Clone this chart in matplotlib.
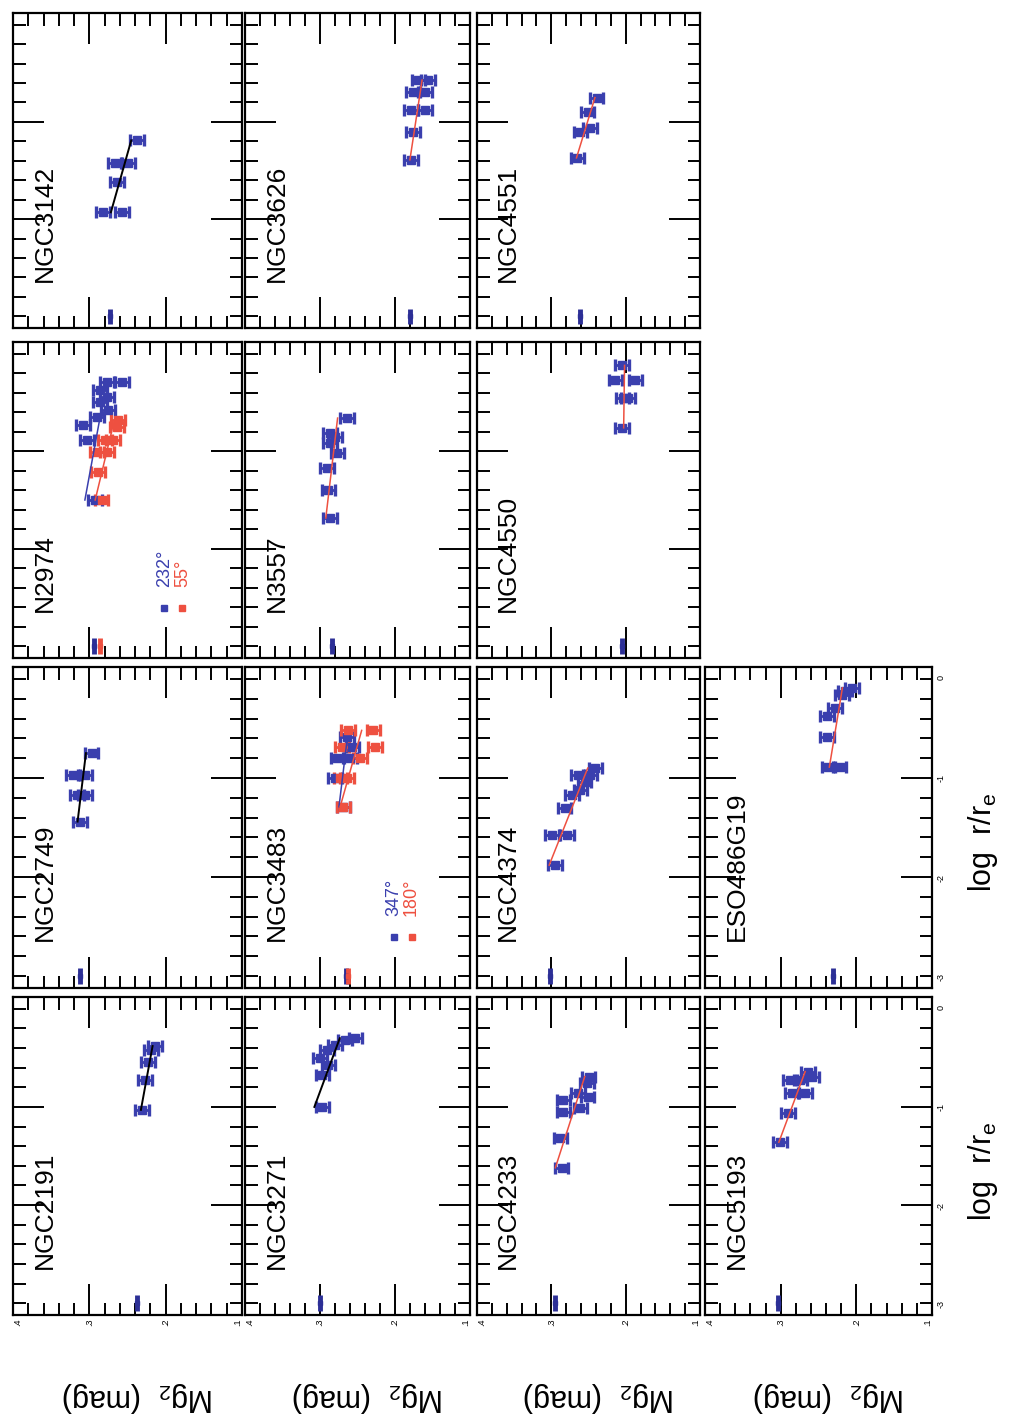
import numpy as np
import matplotlib.pyplot as plt
from matplotlib.ticker import FixedLocator, FuncFormatter, NullFormatter

plt.rcParams['font.family'] = ['Liberation Sans', 'DejaVu Sans']
plt.rcParams['mathtext.fontset'] = 'custom'
plt.rcParams['mathtext.rm'] = 'Liberation Sans'
plt.rcParams['mathtext.it'] = 'Liberation Sans:italic'

BLUE = '#3a3fae'
DARKBLUE = '#2c2f96'
RED = '#ee5040'

# Mg2 radial profiles, log r/re vs Mg2 (mag)
ngc2191_logr = [-1.03, -0.73, -0.54, -0.42, -0.38]
ngc2191_mg2 = [0.231, 0.227, 0.223, 0.219, 0.214]

ngc2749_logr = [-1.44, -1.17, -1.17, -0.97, -0.97, -0.75]
ngc2749_mg2 = [0.312, 0.316, 0.306, 0.321, 0.306, 0.297]

n2974_logr_a = [-1.50, -0.885, -0.73, -0.65, -0.58, -0.50, -0.445, -0.37, -0.29, -0.29]
n2974_mg2_a = [0.293, 0.303, 0.308, 0.290, 0.276, 0.286, 0.277, 0.286, 0.277, 0.257]
n2974_logr_b = [-1.50, -1.21, -1.01, -1.01, -0.885, -0.885, -0.75, -0.68]
n2974_mg2_b = [0.284, 0.289, 0.290, 0.277, 0.279, 0.269, 0.264, 0.262]

ngc3142_logr = [-1.93, -1.93, -1.62, -1.42, -1.42, -1.19]
ngc3142_mg2 = [0.282, 0.257, 0.264, 0.266, 0.249, 0.238]

ngc3271_logr = [-1.00, -0.675, -0.57, -0.50, -0.42, -0.37, -0.32, -0.30]
ngc3271_mg2 = [0.297, 0.297, 0.289, 0.300, 0.291, 0.280, 0.267, 0.253]

ngc3483_logr_a = [-1.29, -1.00, -0.80, -0.80, -0.69, -0.59]
ngc3483_mg2_a = [0.269, 0.280, 0.277, 0.260, 0.257, 0.264]
ngc3483_logr_b = [-1.29, -1.00, -1.00, -0.80, -0.69, -0.52, -0.52, -0.69]
ngc3483_mg2_b = [0.269, 0.273, 0.264, 0.247, 0.271, 0.263, 0.229, 0.227]

n3557_logr = [-1.685, -1.40, -1.17, -1.02, -0.92, -0.855, -0.81, -0.66]
n3557_mg2 = [0.287, 0.289, 0.291, 0.277, 0.287, 0.280, 0.287, 0.264]

ngc3626_logr = [-1.39, -1.10, -0.88, -0.88, -0.69, -0.69, -0.57, -0.57]
ngc3626_mg2 = [0.179, 0.176, 0.179, 0.160, 0.176, 0.160, 0.169, 0.156]

ngc4233_logr = [-1.62, -1.32, -1.05, -0.93, -1.01, -0.86, -0.90, -0.76, -0.69]
ngc4233_mg2 = [0.286, 0.288, 0.284, 0.284, 0.261, 0.264, 0.251, 0.252, 0.250]

ngc4374_logr = [-1.88, -1.58, -1.58, -1.30, -1.17, -1.12, -1.04, -0.97, -0.90, -0.97]
ngc4374_mg2 = [0.295, 0.299, 0.279, 0.282, 0.272, 0.261, 0.255, 0.248, 0.241, 0.264]

ngc4550_logr = [-0.76, -0.455, -0.455, -0.27, -0.27, -0.12]
ngc4550_mg2 = [0.205, 0.204, 0.197, 0.214, 0.187, 0.205]

ngc4551_logr = [-1.37, -1.10, -1.06, -0.90, -0.75]
ngc4551_mg2 = [0.265, 0.261, 0.248, 0.251, 0.239]

ngc5193_logr = [-1.36, -1.06, -0.86, -0.86, -0.73, -0.73, -0.64, -0.70]
ngc5193_mg2 = [0.301, 0.290, 0.285, 0.268, 0.288, 0.274, 0.264, 0.259]

eso486g19_logr = [-0.89, -0.89, -0.59, -0.37, -0.29, -0.16, -0.12, -0.09]
eso486g19_mg2 = [0.237, 0.222, 0.239, 0.239, 0.228, 0.219, 0.215, 0.206]

names = ['NGC2191', 'NGC2749', 'N2974', 'NGC3142',
         'NGC3271', 'NGC3483', 'N3557', 'NGC3626',
         'NGC4233', 'NGC4374', 'NGC4550', 'NGC4551',
         'NGC5193', 'ESO486G19']

# central (log r = -3) value, second slit where there is one
central_mg2 = [0.238, 0.312, 0.294, 0.273, 0.300, 0.266, 0.284, 0.180,
               0.295, 0.302, 0.205, 0.261, 0.303, 0.231]
central_mg2_b = {'N2974': 0.286, 'NGC3483': 0.263}
fit_colors = ['k', 'k', None, 'k', 'k', None, RED, RED,
              RED, RED, RED, RED, RED, RED]
slit_pa = {'N2974': ('232°', '55°'), 'NGC3483': ('347°', '180°')}

mg2_ticks = [0.4, 0.3, 0.2, 0.1]
logr_ticks = [-3, -2, -1, 0]

profiles = [
    [(ngc2191_logr, ngc2191_mg2, BLUE)],
    [(ngc2749_logr, ngc2749_mg2, BLUE)],
    [(n2974_logr_a, n2974_mg2_a, BLUE), (n2974_logr_b, n2974_mg2_b, RED)],
    [(ngc3142_logr, ngc3142_mg2, BLUE)],
    [(ngc3271_logr, ngc3271_mg2, BLUE)],
    [(ngc3483_logr_a, ngc3483_mg2_a, BLUE), (ngc3483_logr_b, ngc3483_mg2_b, RED)],
    [(n3557_logr, n3557_mg2, BLUE)],
    [(ngc3626_logr, ngc3626_mg2, BLUE)],
    [(ngc4233_logr, ngc4233_mg2, BLUE)],
    [(ngc4374_logr, ngc4374_mg2, BLUE)],
    [(ngc4550_logr, ngc4550_mg2, BLUE)],
    [(ngc4551_logr, ngc4551_mg2, BLUE)],
    [(ngc5193_logr, ngc5193_mg2, BLUE)],
    [(eso486g19_logr, eso486g19_mg2, BLUE)],
]

# page is laid out turned on its side: Mg2 runs horizontally, log r upward
W, H = 1011, 1420
col_x = [(13, 242), (245, 470), (477, 700), (705, 932)]
row_y = [(13, 328), (342, 658), (667, 988), (997, 1315)]

fig = plt.figure(figsize=(W / 100, H / 100), dpi=100)

logr_fmt = FuncFormatter(lambda v, p: '%d' % round(v) if round(v) in logr_ticks and abs(v - round(v)) < 1e-6 else '')

for i, name in enumerate(names):
    r, c = divmod(i, 4)
    x0, x1 = col_x[r]
    y0, y1 = row_y[3 - c]
    ax = fig.add_axes([x0 / W, 1 - y1 / H, (x1 - x0) / W, (y1 - y0) / H])
    ax.set_xlim(0.4, 0.1)
    ax.set_ylim(-3.12, 0.12)

    ax.xaxis.set_major_locator(FixedLocator([0.3, 0.2]))
    ax.xaxis.set_minor_locator(FixedLocator(np.round(np.arange(0.10, 0.401, 0.02), 2)))
    ax.yaxis.set_major_locator(FixedLocator([-2, -1]))
    ax.yaxis.set_minor_locator(FixedLocator(np.round(np.arange(-3.0, 0.01, 0.2), 1)))
    ax.xaxis.set_major_formatter(NullFormatter())
    ax.xaxis.set_minor_formatter(NullFormatter())
    ax.yaxis.set_major_formatter(logr_fmt)
    ax.yaxis.set_minor_formatter(logr_fmt)

    ax.tick_params(which='both', direction='in', top=True, bottom=True,
                   left=True, right=True, width=1.4, color='k',
                   labelleft=False, labeltop=False, labelbottom=False,
                   labelright=(r == 3),
                   labelsize=6.5, labelrotation=90, pad=3)
    ax.tick_params(which='major', length=22)
    ax.tick_params(which='minor', length=9)
    for s in ax.spines.values():
        s.set_linewidth(1.6)

    # Mg2 scale along the bottom row, end labels kept inside their own panel
    if c == 0:
        for v in mg2_ticks:
            ha = 'left' if v == mg2_ticks[0] else 'right' if v == mg2_ticks[-1] else 'center'
            ax.text(v, -0.012, ('%.1f' % v).lstrip('0'), rotation=90, ha=ha,
                    va='top', fontsize=6.5,
                    transform=ax.get_xaxis_transform())

    for logr, mg2, col in profiles[i]:
        ax.errorbar(mg2, logr, xerr=0.009, fmt='s', ms=5.5, color=col,
                    ecolor=col, elinewidth=2.0, capsize=4, capthick=2.4,
                    zorder=3)
        lc = fit_colors[i] if fit_colors[i] else col
        k, b = np.polyfit(logr, mg2, 1)
        lr = np.array([min(logr), max(logr)])
        ax.plot(k * lr + b, lr, color=lc, lw=1.4 if lc == 'k' else 1.1, zorder=4)

    ax.errorbar([central_mg2[i]], [-3], yerr=0.08, fmt='s', ms=3.5,
                color=DARKBLUE, elinewidth=3.5, capsize=0, zorder=3)
    if name in central_mg2_b:
        ax.errorbar([central_mg2_b[name]], [-3], yerr=0.08, fmt='s', ms=3.5,
                    color=RED, elinewidth=3.5, capsize=0, zorder=3)

    if name in slit_pa:
        pa_a, pa_b = slit_pa[name]
        for xf, col, txt in [(0.66, BLUE, pa_a), (0.74, RED, pa_b)]:
            ax.plot([xf], [0.158], 's', ms=5, color=col, transform=ax.transAxes)
            ax.text(xf, 0.225, txt, color=col, rotation=90, ha='center',
                    va='bottom', fontsize=13, transform=ax.transAxes)

    ax.text(0.14, 0.145, name, transform=ax.transAxes, rotation=90,
            ha='center', va='bottom', fontsize=19)

for x0, x1 in col_x:
    fig.text(((x0 + x1) / 2 + 10) / W, 1 - 1397 / H, 'Mg$_2$  (mag)',
             rotation=180, ha='center', va='center', fontsize=22)
for y0, y1 in row_y[2:]:
    fig.text(983 / W, 1 - ((y0 + y1) / 2 + 15) / H, r'log  r/r$_\mathrm{e}$',
             rotation=90, ha='center', va='center', fontsize=22)

fig.savefig('out.png', dpi=100)
